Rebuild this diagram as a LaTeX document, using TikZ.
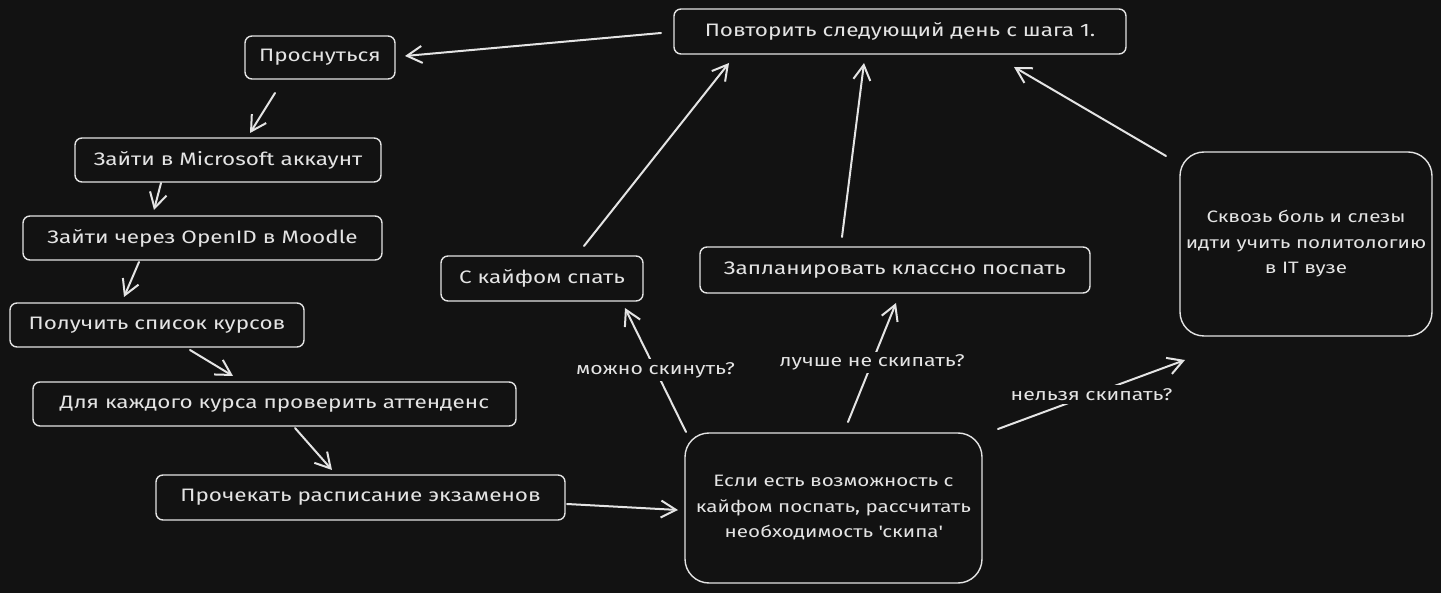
\documentclass[tikz,border=0pt]{standalone}
\usepackage{fontspec}
\setmainfont{Fira Sans}[FakeStretch=1.25]
\usetikzlibrary{arrows.meta}
\definecolor{bg}{HTML}{121212}
\definecolor{ink}{HTML}{E4E4E4}
\tikzset{
  box/.style={draw=ink, line width=1.4pt, rounded corners=7pt, text=ink, inner sep=0pt, align=center, font=\fontsize{18}{25}\selectfont},
  bigbox/.style={box, rounded corners=24pt, font=\fontsize{16.5}{25.5}\selectfont},
  arr/.style={draw=ink, line width=2pt, line cap=round, -{Straight Barb[length=15pt,width=17pt,line width=2pt]}},
  lbl/.style={fill=bg, text=ink, inner sep=3pt, font=\fontsize{17}{20}\selectfont},
}
\begin{document}
\begin{tikzpicture}[x=1pt,y=1pt]
\fill[bg] (0,0) rectangle (1441,-593);
\useasboundingbox (0,0) rectangle (1441,-593);
\node[box, minimum width=150pt, minimum height=43pt] (wake) at (320,-57.5) {Проснуться};
\node[box, minimum width=306pt, minimum height=44pt] (ms) at (228,-160) {Зайти в Microsoft аккаунт};
\node[box, minimum width=359pt, minimum height=44pt] (oid) at (202.5,-238) {Зайти через OpenID в Moodle};
\node[box, minimum width=294pt, minimum height=44pt] (list) at (157,-325) {Получить список курсов};
\node[box, minimum width=483pt, minimum height=44pt] (each) at (274.5,-404) {Для каждого курса проверить аттенденс};
\node[box, minimum width=409pt, minimum height=45pt] (exam) at (360.5,-497.5) {Прочекать расписание экзаменов};
\node[bigbox, minimum width=297pt, minimum height=150pt] (ifn) at (833.5,-508) {Если есть возможность с\\кайфом поспать, рассчитать\\необходимость \textquotesingle скипа\textquotesingle};
\node[box, minimum width=202pt, minimum height=45pt] (chill) at (542,-278.5) {С кайфом спать};
\node[box, minimum width=390pt, minimum height=46pt] (plan) at (895,-270) {Запланировать классно поспать};
\node[box, minimum width=452pt, minimum height=45pt] (rep) at (900,-31.5) {Повторить следующий день с шага 1.};
\node[bigbox, minimum width=252pt, minimum height=184pt] (pain) at (1306,-244) {Сквозь боль и слезы\\идти учить политологию\\в IT вузе};

\draw[arr] ([shift={(-239pt,-1.5pt)}]rep.center) -- ([shift={(85pt,1.5pt)}]wake.center);
\draw[arr] ([shift={(-45pt,-35.5pt)}]wake.center) -- ([shift={(22pt,27pt)}]ms.center);
\draw[arr] ([shift={(-67pt,-23pt)}]ms.center) -- ([shift={(-48.5pt,28pt)}]oid.center);
\draw[arr] ([shift={(-63.5pt,-24pt)}]oid.center) -- ([shift={(-33pt,28pt)}]list.center);
\draw[arr] ([shift={(33pt,-25pt)}]list.center) -- ([shift={(-41.5pt,28pt)}]each.center);
\draw[arr] ([shift={(20.5pt,-24pt)}]each.center) -- ([shift={(-28.5pt,27.5pt)}]exam.center);
\draw[arr] ([shift={(206.5pt,-6.5pt)}]exam.center) -- ([shift={(-155.5pt,-2pt)}]ifn.center);
\draw[arr] ([shift={(-147.5pt,76pt)}]ifn.center) -- node[lbl]{можно скинуть?} ([shift={(83pt,-29.5pt)}]chill.center);
\draw[arr] ([shift={(14.5pt,86pt)}]ifn.center) -- node[lbl]{лучше не скипать?} ([shift={(1pt,-33pt)}]plan.center);
\draw[arr] ([shift={(164.5pt,79pt)}]ifn.center) -- node[lbl]{нельзя скипать?} ([shift={(-121pt,-116pt)}]pain.center);
\draw[arr] ([shift={(42pt,32.5pt)}]chill.center) -- ([shift={(-171pt,-31.5pt)}]rep.center);
\draw[arr] ([shift={(-53pt,33pt)}]plan.center) -- ([shift={(-36pt,-31.5pt)}]rep.center);
\draw[arr] ([shift={(-140pt,88pt)}]pain.center) -- ([shift={(114pt,-35.5pt)}]rep.center);
\end{tikzpicture}
\end{document}
